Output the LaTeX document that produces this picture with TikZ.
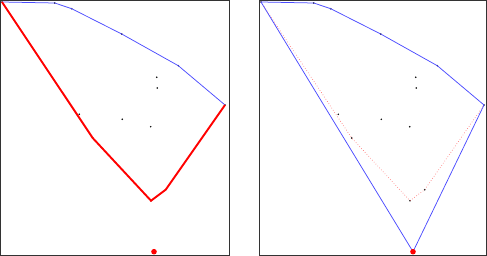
\documentclass[tikz,border=0pt]{standalone}
\begin{document}
\begin{tikzpicture}[x=1pt,y=-1pt,
  pt/.style={circle,fill=black,inner sep=0pt,minimum size=1.7pt},
  frame/.style={draw=black!80,line width=1pt},
  hull/.style={draw=blue!70,line width=0.75pt,line join=round},
  redpath/.style={draw=red,line width=1.9pt,line join=miter},
  reddot/.style={draw=red!55,line width=0.65pt,dotted},
  bigdot/.style={circle,fill=red,inner sep=0pt,minimum size=5.6pt}]
\useasboundingbox (0,0) rectangle (487,256);
\newcommand\panelpts{%
  \node[pt] (A) at (2,2) {};
  \node[pt] (B) at (54.7,3) {};
  \node[pt] (C) at (71.7,8.7) {};
  \node[pt] (D) at (121.7,34) {};
  \node[pt] (E) at (178.3,65.7) {};
  \node[pt] (F) at (225,105) {};
  \node[pt] (G) at (156.7,77.3) {};
  \node[pt] (H) at (157.3,88) {};
  \node[pt] (I) at (79.3,114.3) {};
  \node[pt] (J) at (122.3,119.3) {};
  \node[pt] (K) at (150.7,126.7) {};
  \node[pt] (L) at (92.7,138) {};
  \node[pt] (M) at (151,200.7) {};
  \node[pt] (N) at (165.7,189.7) {};
}
% left panel
\begin{scope}[name prefix=l-]
  \draw[frame] (0.5,0.5) rectangle (229,255.5);
  \panelpts
  \draw[hull] (A.center) -- (B.center) -- (C.center) -- (D.center) -- (E.center) -- (F.center);
  \draw[redpath] (A.center) -- (L.center) -- (M.center) -- (N.center) -- (F.center);
  \node[bigdot] (P) at (154,251.7) {};
\end{scope}
% right panel
\begin{scope}[xshift=259pt,name prefix=r-]
  \draw[frame] (0.3,0.5) rectangle (227.5,255.5);
  \panelpts
  \draw[reddot] (A.center) -- (L.center) -- (M.center) -- (N.center) -- (F.center);
  \coordinate (Q) at (154,251.7);
  \draw[hull] (Q) -- (A.center) -- (B.center) -- (C.center) -- (D.center) -- (E.center) -- (F.center) -- (Q);
  \node[bigdot] (P) at (Q) {};
\end{scope}
\end{tikzpicture}
\end{document}
